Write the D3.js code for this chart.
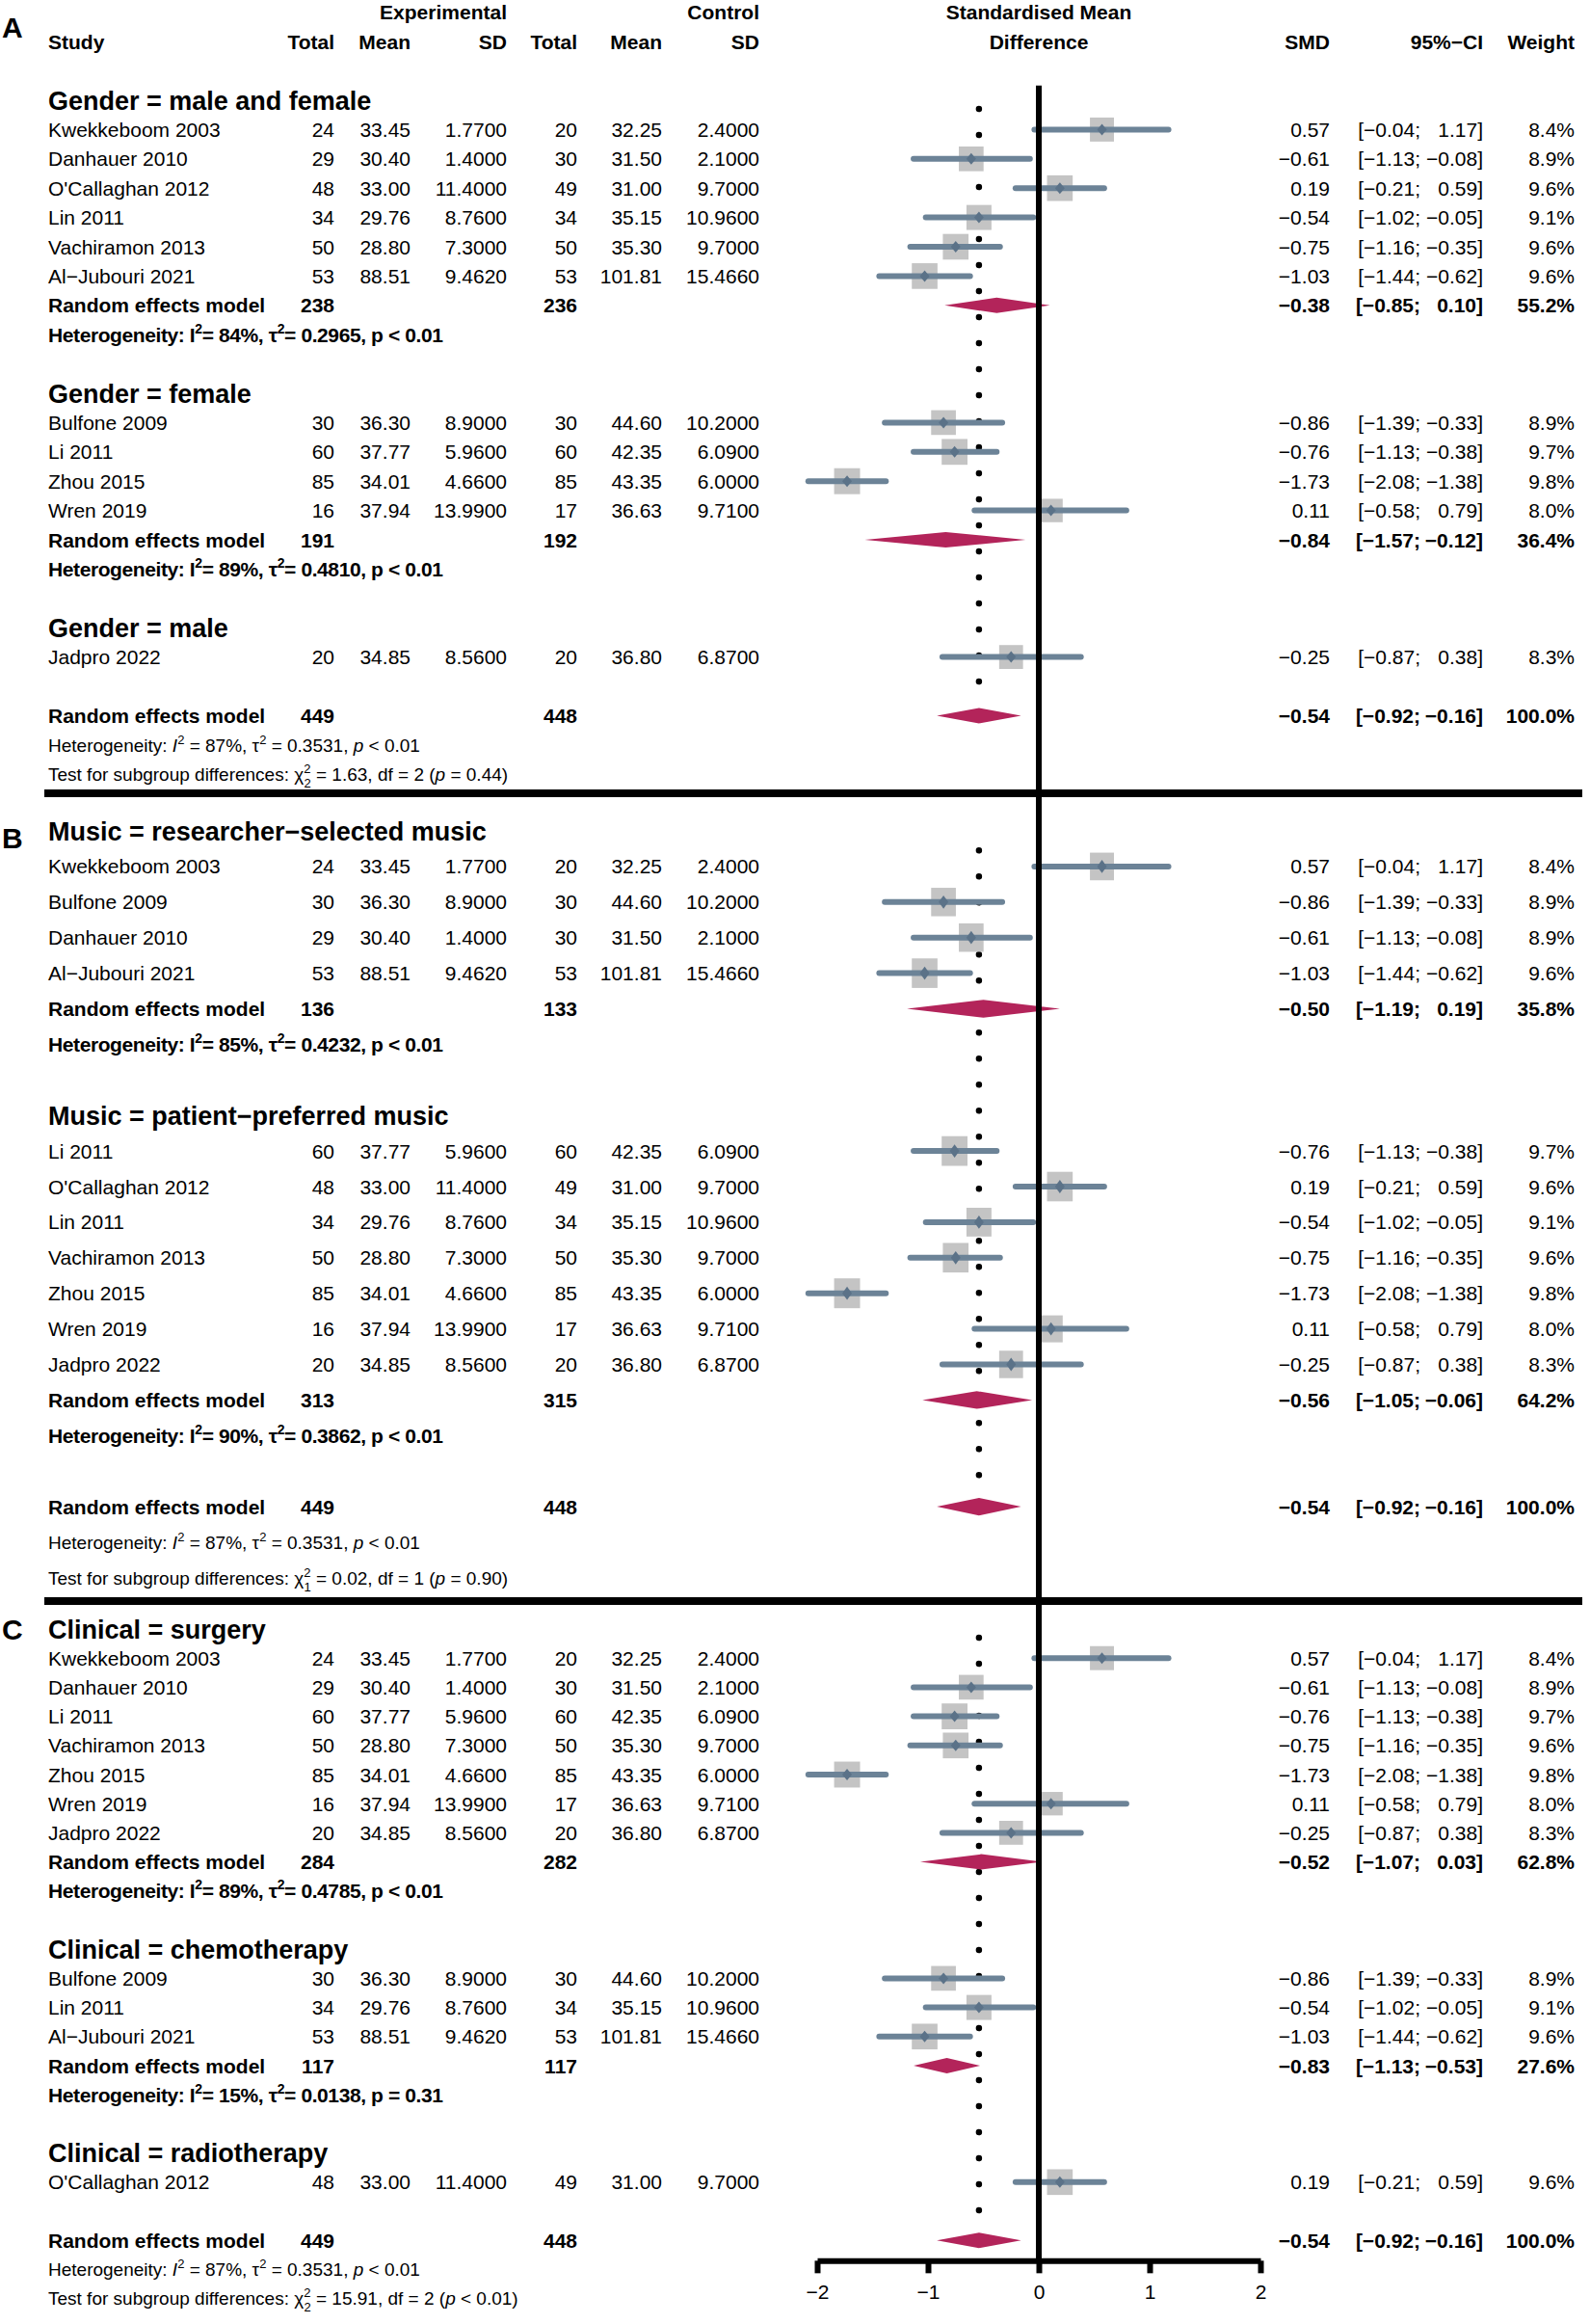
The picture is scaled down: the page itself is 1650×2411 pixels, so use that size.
<!DOCTYPE html>
<html>
<head>
<meta charset="utf-8">
<script src="https://cdn.jsdelivr.net/npm/d3@7"></script>
<style>
  body { margin: 0; background: #fff; }
  text { font-family: "Liberation Sans", Arial, sans-serif; fill: #000; }
</style>
</head>
<body>
<div id="chart"></div>
<script>
// Study table //
var studyNames = ["Kwekkeboom 2003", "Danhauer 2010", "O'Callaghan 2012", "Lin 2011", "Vachiramon 2013",
  "Al\u2212Jubouri 2021", "Bulfone 2009", "Li 2011", "Zhou 2015", "Wren 2019", "Jadpro 2022"];
var expTotal  = [24, 29, 48, 34, 50, 53, 30, 60, 85, 16, 20];
var expMean   = [33.45, 30.40, 33.00, 29.76, 28.80, 88.51, 36.30, 37.77, 34.01, 37.94, 34.85];
var expSD     = [1.77, 1.40, 11.40, 8.76, 7.30, 9.462, 8.90, 5.96, 4.66, 13.99, 8.56];
var ctrlTotal = [20, 30, 49, 34, 50, 53, 30, 60, 85, 17, 20];
var ctrlMean  = [32.25, 31.50, 31.00, 35.15, 35.30, 101.81, 44.60, 42.35, 43.35, 36.63, 36.80];
var ctrlSD    = [2.40, 2.10, 9.70, 10.96, 9.70, 15.466, 10.20, 6.09, 6.00, 9.71, 6.87];
var smd       = [0.57, -0.61, 0.19, -0.54, -0.75, -1.03, -0.86, -0.76, -1.73, 0.11, -0.25];
var ciLow     = [-0.04, -1.13, -0.21, -1.02, -1.16, -1.44, -1.39, -1.13, -2.08, -0.58, -0.87];
var ciHigh    = [1.17, -0.08, 0.59, -0.05, -0.35, -0.62, -0.33, -0.38, -1.38, 0.79, 0.38];
var weight    = [8.4, 8.9, 9.6, 9.1, 9.6, 9.6, 8.9, 9.7, 9.8, 8.0, 8.3];

// Subgroups per panel //
var panelLetters = ["A", "B", "C"];
var subgroupNames = [
  ["Gender = male and female", "Gender = female", "Gender = male"],
  ["Music = researcher\u2212selected music", "Music = patient\u2212preferred music"],
  ["Clinical = surgery", "Clinical = chemotherapy", "Clinical = radiotherapy"]
];
var subgroupMembers = [
  [["Kwekkeboom 2003", "Danhauer 2010", "O'Callaghan 2012", "Lin 2011", "Vachiramon 2013", "Al\u2212Jubouri 2021"],
   ["Bulfone 2009", "Li 2011", "Zhou 2015", "Wren 2019"],
   ["Jadpro 2022"]],
  [["Kwekkeboom 2003", "Bulfone 2009", "Danhauer 2010", "Al\u2212Jubouri 2021"],
   ["Li 2011", "O'Callaghan 2012", "Lin 2011", "Vachiramon 2013", "Zhou 2015", "Wren 2019", "Jadpro 2022"]],
  [["Kwekkeboom 2003", "Danhauer 2010", "Li 2011", "Vachiramon 2013", "Zhou 2015", "Wren 2019", "Jadpro 2022"],
   ["Bulfone 2009", "Lin 2011", "Al\u2212Jubouri 2021"],
   ["O'Callaghan 2012"]]
];
var subgroupTotals = [[[238, 236], [191, 192], null], [[136, 133], [313, 315]], [[284, 282], [117, 117], null]];
var subgroupEffect = [
  [[-0.38, -0.85, 0.10, 55.2], [-0.84, -1.57, -0.12, 36.4], null],
  [[-0.50, -1.19, 0.19, 35.8], [-0.56, -1.05, -0.06, 64.2]],
  [[-0.52, -1.07, 0.03, 62.8], [-0.83, -1.13, -0.53, 27.6], null]
];
var subgroupHet = [
  [["84%", "0.2965", "p < 0.01"], ["89%", "0.4810", "p < 0.01"], null],
  [["85%", "0.4232", "p < 0.01"], ["90%", "0.3862", "p < 0.01"]],
  [["89%", "0.4785", "p < 0.01"], ["15%", "0.0138", "p = 0.31"], null]
];
var overallTotals = [449, 448];
var overallEffect = [-0.54, -0.92, -0.16, 100.0];
var overallHet = ["87%", "0.3531", "< 0.01"];
var subgroupTest = [["1.63", "2", "= 0.44"], ["0.02", "1", "= 0.90"], ["15.91", "2", "< 0.01"]];
var axisTicks = [-2, -1, 0, 1, 2];

// Layout //
var svgWidth = 1650;
var svgHeight = 2411;
var panelTop = [104, 862, 1690];
var panelStep = [30.4, 36.9, 30.2];
var panelStretch = [1, 1.15, 1];
var letterRow = [-2.5, 0.2, 0];
var col = { study: 50, eTot: 347, eMean: 426, eSD: 526, cTot: 599, cMean: 687, cSD: 788,
            smd: 1380, ciSemi: 1474, ciEnd: 1539, w: 1634 };

var ciColor = "#6c8397";
var boxColor = "#c4c4c4";
var diamondColor = "#b3245a";

var f2 = d3.format(".2f");
var f4 = d3.format(".4f");
var f1 = d3.format(".1f");

var svg = d3.select("#chart")
  .append("svg")
  .attr("width", svgWidth)
  .attr("height", svgHeight);

var x = d3.scaleLinear().domain([-2, 2]).range([848, 1308]);

var lineLayer = svg.append("g");
var markLayer = svg.append("g");
var topLayer = svg.append("g");
var textLayer = svg.append("g");

// text helper //
function label(x0, y0, s, anchor, size, bold) {
  return textLayer.append("text")
    .attr("x", x0)
    .attr("y", y0)
    .attr("dy", "0.36em")
    .attr("text-anchor", anchor)
    .attr("font-size", size)
    .attr("font-weight", bold ? 700 : 400)
    .text(s);
}

function ciText(y0, lo, hi, bold) {
  label(col.ciSemi, y0, "[" + f2(lo) + ";", "end", 21, bold);
  label(col.ciEnd, y0, f2(hi) + "]", "end", 21, bold);
}

function diamond(y0, eff, sy) {
  var h = 8 * sy;
  markLayer.append("path")
    .attr("d", `M${x(eff[1])},${y0} L${x(eff[0])},${y0 - h} L${x(eff[2])},${y0} L${x(eff[0])},${y0 + h} Z`)
    .attr("fill", diamondColor);
}

var yTop = panelTop[0] + panelStep[0] * -0.5;
var yAxis = 0;

// header //
var yh1 = panelTop[0] - 3 * panelStep[0];
var yh2 = panelTop[0] - 2 * panelStep[0];
label(col.eSD, yh1, "Experimental", "end", 21, true);
label(col.cSD, yh1, "Control", "end", 21, true);
label(x(0), yh1, "Standardised Mean", "middle", 21, true);
label(col.study, yh2, "Study", "start", 21, true);
label(col.eTot, yh2, "Total", "end", 21, true);
label(col.eMean, yh2, "Mean", "end", 21, true);
label(col.eSD, yh2, "SD", "end", 21, true);
label(col.cTot, yh2, "Total", "end", 21, true);
label(col.cMean, yh2, "Mean", "end", 21, true);
label(col.cSD, yh2, "SD", "end", 21, true);
label(x(0), yh2, "Difference", "middle", 21, true);
label(col.smd, yh2, "SMD", "end", 21, true);
label(col.ciEnd, yh2, "95%\u2212CI", "end", 21, true);
label(col.w, yh2, "Weight", "end", 21, true);

panelLetters.forEach(function(letter, p) {
  var y = d3.scaleLinear().domain([0, 1]).range([panelTop[p], panelTop[p] + panelStep[p]]);
  var sy = panelStretch[p];
  var r = 0;

  label(2, y(letterRow[p]), letter, "start", 30, true);

  subgroupNames[p].forEach(function(name, s) {
    label(col.study, y(r), name, "start", 27, true);
    r++;
    subgroupMembers[p][s].forEach(function(st) {
      var k = studyNames.indexOf(st);
      var yy = y(r);
      label(col.study, yy, st, "start", 21, false);
      label(col.eTot, yy, expTotal[k], "end", 21, false);
      label(col.eMean, yy, f2(expMean[k]), "end", 21, false);
      label(col.eSD, yy, f4(expSD[k]), "end", 21, false);
      label(col.cTot, yy, ctrlTotal[k], "end", 21, false);
      label(col.cMean, yy, f2(ctrlMean[k]), "end", 21, false);
      label(col.cSD, yy, f4(ctrlSD[k]), "end", 21, false);
      label(col.smd, yy, f2(smd[k]), "end", 21, false);
      ciText(yy, ciLow[k], ciHigh[k], false);
      label(col.w, yy, f1(weight[k]) + "%", "end", 21, false);

      var side = 8.6 * Math.sqrt(weight[k]);
      markLayer.append("rect")
        .attr("x", x(smd[k]) - side / 2)
        .attr("y", yy - side * sy / 2)
        .attr("width", side)
        .attr("height", side * sy)
        .attr("fill", boxColor);
      topLayer.append("line")
        .attr("x1", x(ciLow[k])).attr("x2", x(ciHigh[k]))
        .attr("y1", yy).attr("y2", yy)
        .attr("stroke", ciColor)
        .attr("stroke-width", 6)
        .attr("stroke-linecap", "round");
      topLayer.append("path")
        .attr("d", `M${x(smd[k]) - 5},${yy} L${x(smd[k])},${yy - 6 * sy} L${x(smd[k]) + 5},${yy} L${x(smd[k])},${yy + 6 * sy} Z`)
        .attr("fill", "#5b7288");
      r++;
    });
    if (subgroupTotals[p][s]) {
      var yy = y(r);
      var eff = subgroupEffect[p][s];
      label(col.study, yy, "Random effects model", "start", 21, true);
      label(col.eTot, yy, subgroupTotals[p][s][0], "end", 21, true);
      label(col.cTot, yy, subgroupTotals[p][s][1], "end", 21, true);
      label(col.smd, yy, f2(eff[0]), "end", 21, true);
      ciText(yy, eff[1], eff[2], true);
      label(col.w, yy, f1(eff[3]) + "%", "end", 21, true);
      diamond(yy, eff, sy);
      r++;
      var h = subgroupHet[p][s];
      var t = label(col.study, y(r), "", "start", 21, true)
        .attr("letter-spacing", -0.4);
      t.append("tspan").text("Heterogeneity: I");
      t.append("tspan").attr("dy", -9).attr("font-size", 14).text("2");
      t.append("tspan").attr("dy", 9).text("= " + h[0] + ", \u03c4");
      t.append("tspan").attr("dy", -9).attr("font-size", 14).text("2");
      t.append("tspan").attr("dy", 9).text("= " + h[1] + ", " + h[2]);
      r++;
    }
    r++;
  });

  // overall //
  var yo = y(r);
  label(col.study, yo, "Random effects model", "start", 21, true);
  label(col.eTot, yo, overallTotals[0], "end", 21, true);
  label(col.cTot, yo, overallTotals[1], "end", 21, true);
  label(col.smd, yo, f2(overallEffect[0]), "end", 21, true);
  ciText(yo, overallEffect[1], overallEffect[2], true);
  label(col.w, yo, f1(overallEffect[3]) + "%", "end", 21, true);
  diamond(yo, overallEffect, sy);

  var t1 = label(col.study, y(r + 1), "", "start", 19, false);
  t1.append("tspan").text("Heterogeneity: ");
  t1.append("tspan").attr("font-style", "italic").text("I");
  t1.append("tspan").attr("dy", -8).attr("font-size", 13).text("2");
  t1.append("tspan").attr("dy", 8).text(" = " + overallHet[0] + ",  \u03c4");
  t1.append("tspan").attr("dy", -8).attr("font-size", 13).text("2");
  t1.append("tspan").attr("dy", 8).text(" = " + overallHet[1] + ", ");
  t1.append("tspan").attr("font-style", "italic").text("p");
  t1.append("tspan").text(" " + overallHet[2]);

  var tst = subgroupTest[p];
  var t2 = label(col.study, y(r + 2), "", "start", 19, false);
  t2.append("tspan").text("Test for subgroup differences:  \u03c7");
  t2.append("tspan").attr("dy", -8).attr("font-size", 13).text("2");
  t2.append("tspan").attr("dx", -7).attr("dy", 15).attr("font-size", 13).text(tst[1]);
  t2.append("tspan").attr("dy", -7).text(" = " + tst[0] + ", df = " + tst[1] + " (");
  t2.append("tspan").attr("font-style", "italic").text("p");
  t2.append("tspan").text(" " + tst[2] + ")");

  // dotted line at the overall effect //
  lineLayer.append("line")
    .attr("x1", x(overallEffect[0])).attr("x2", x(overallEffect[0]))
    .attr("y1", y(p === 1 ? 0.55 : 0.3)).attr("y2", y(r - 0.45))
    .attr("stroke", "#000")
    .attr("stroke-width", 6.5)
    .attr("stroke-linecap", "round")
    .attr("stroke-dasharray", "0,27");

  if (p < 2) {
    lineLayer.append("line")
      .attr("x1", 46).attr("x2", 1642)
      .attr("y1", y(r + 2.65)).attr("y2", y(r + 2.65))
      .attr("stroke", "#000")
      .attr("stroke-width", 8);
  } else {
    yAxis = y(r + 0.7);
  }
});

// zero line //
topLayer.append("line")
  .attr("x1", x(0)).attr("x2", x(0))
  .attr("y1", yTop).attr("y2", yAxis)
  .attr("stroke", "#000")
  .attr("stroke-width", 6);

// axis //
var bottomAxis = d3.axisBottom(x)
  .tickValues(axisTicks)
  .tickFormat(d3.format("d"))
  .tickSize(13)
  .tickSizeOuter(0)
  .tickPadding(12);

var axisG = svg.append("g")
  .attr("transform", `translate(0, ${yAxis})`)
  .call(bottomAxis);
axisG.attr("font-family", null).attr("font-size", null);
axisG.select(".domain").attr("stroke", "#000").attr("stroke-width", 6);
axisG.selectAll(".tick line").attr("stroke", "#000").attr("stroke-width", 6);
axisG.selectAll(".tick text").attr("font-size", 21).attr("fill", "#000");
</script>
</body>
</html>
